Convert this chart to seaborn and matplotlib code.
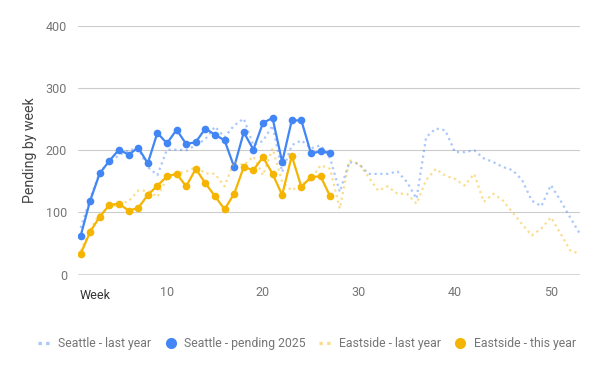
import numpy as np
import pandas as pd
import matplotlib
matplotlib.use("Agg")
import matplotlib.pyplot as plt
from matplotlib.lines import Line2D
import seaborn as sns

# ---- data ----
weeks_last = list(range(1, 54))
seattle_last = [75, 122, 165, 181, 192, 200, 203, 173, 160, 201,
                201, 200, 208, 218, 238, 221, 240, 251, 208, 215,
                240, 165, 208, 216, 203, 208, 187, 133, 181, 178,
                162, 162, 162, 166, 149, 122, 221, 235, 232, 197,
                197, 200, 187, 181, 173, 168, 152, 119, 110, 144,
                119, 92, 66]
eastside_last = [38, 72, 98, 108, 114, 118, 135, 135, 125, 155,
                 162, 166, 173, 163, 162, 142, 182, 176, 190, 160,
                 203, 149, 135, 146, 152, 176, 170, 106, 184, 178,
                 157, 135, 142, 130, 130, 114, 152, 170, 159, 154,
                 143, 162, 117, 130, 119, 100, 81, 63, 74, 92,
                 66, 39, 33]

weeks_now = list(range(1, 28))
seattle_2025 = [62, 119, 163, 183, 201, 193, 204, 179, 228, 211,
                233, 210, 213, 235, 225, 216, 173, 229, 201, 244,
                252, 181, 248, 248, 195, 198, 196]
eastside_now = [33, 69, 93, 112, 114, 103, 107, 128, 143, 158,
                162, 142, 170, 147, 126, 105, 130, 173, 168, 189,
                162, 128, 191, 141, 157, 158, 126]

labels = ["Seattle - last year", "Seattle - pending 2025",
          "Eastside - last year", "Eastside - this year"]

BLUE = "#4285F4"
YELLOW = "#F4B400"
TICK_GREY = "#757575"

df = pd.concat([
    pd.DataFrame({"week": weeks_last, "value": seattle_last, "series": labels[0]}),
    pd.DataFrame({"week": weeks_now, "value": seattle_2025, "series": labels[1]}),
    pd.DataFrame({"week": weeks_last, "value": eastside_last, "series": labels[2]}),
    pd.DataFrame({"week": weeks_now, "value": eastside_now, "series": labels[3]}),
], ignore_index=True)

sns.set_theme(style="white")
plt.rcParams["font.family"] = ["Roboto", "DejaVu Sans"]

fig = plt.figure(figsize=(6, 3.71), dpi=100)
ax = fig.add_axes([0.13, 0.26, 0.837, 0.67])

dotted = (0, (1, 1.6))
styles = {
    labels[0]: dict(color=BLUE, alpha=0.45, linestyle=dotted, linewidth=1.6),
    labels[1]: dict(color=BLUE, linewidth=1.6, marker="o", markersize=5.5,
                    markeredgewidth=0),
    labels[2]: dict(color=YELLOW, alpha=0.45, linestyle=dotted, linewidth=1.6),
    labels[3]: dict(color=YELLOW, linewidth=1.6, marker="o", markersize=5.5,
                    markeredgewidth=0),
}
for name in labels:
    sub = df[df["series"] == name]
    sns.lineplot(data=sub, x="week", y="value", ax=ax, estimator=None,
                 legend=False, **styles[name])

# axes look
ax.set_xlim(0.73, 53.05)
ax.set_ylim(0, 400)
ax.set_yticks([0, 100, 200, 300, 400])
ax.set_xticks([10, 20, 30, 40, 50])
for v in [100, 200, 300, 400]:
    ax.axhline(v, color="#cccccc", linewidth=0.8, zorder=0)
ax.axhline(0, color="#333333", linewidth=1.0, zorder=3)
for s in ax.spines.values():
    s.set_visible(False)
ax.tick_params(axis="both", length=0, labelsize=9, colors=TICK_GREY)
ax.tick_params(axis="y", pad=8)
ax.tick_params(axis="x", pad=8)
ax.set_xlabel("")
ax.set_ylabel("Pending by week", fontsize=10.2, color="#444444", labelpad=6)
ax.text(0.004, -0.085, "Week", transform=ax.transAxes, fontsize=9,
        color="#333333", ha="left", va="center")

# legend
handles = [
    Line2D([], [], color=BLUE, alpha=0.45, linewidth=2.4, linestyle=(0, (1, 1.3))),
    Line2D([], [], color=BLUE, marker="o", linestyle="none", markersize=8,
           markeredgewidth=0),
    Line2D([], [], color=YELLOW, alpha=0.45, linewidth=2.4, linestyle=(0, (1, 1.3))),
    Line2D([], [], color=YELLOW, marker="o", linestyle="none", markersize=8,
           markeredgewidth=0),
]
fig.legend(handles, labels, loc="center", bbox_to_anchor=(0.512, 0.073), ncol=4,
           frameon=False, fontsize=8.8, handlelength=1.0, handletextpad=0.6,
           columnspacing=1.1, labelcolor=TICK_GREY)

fig.savefig("out.png", dpi=100)
